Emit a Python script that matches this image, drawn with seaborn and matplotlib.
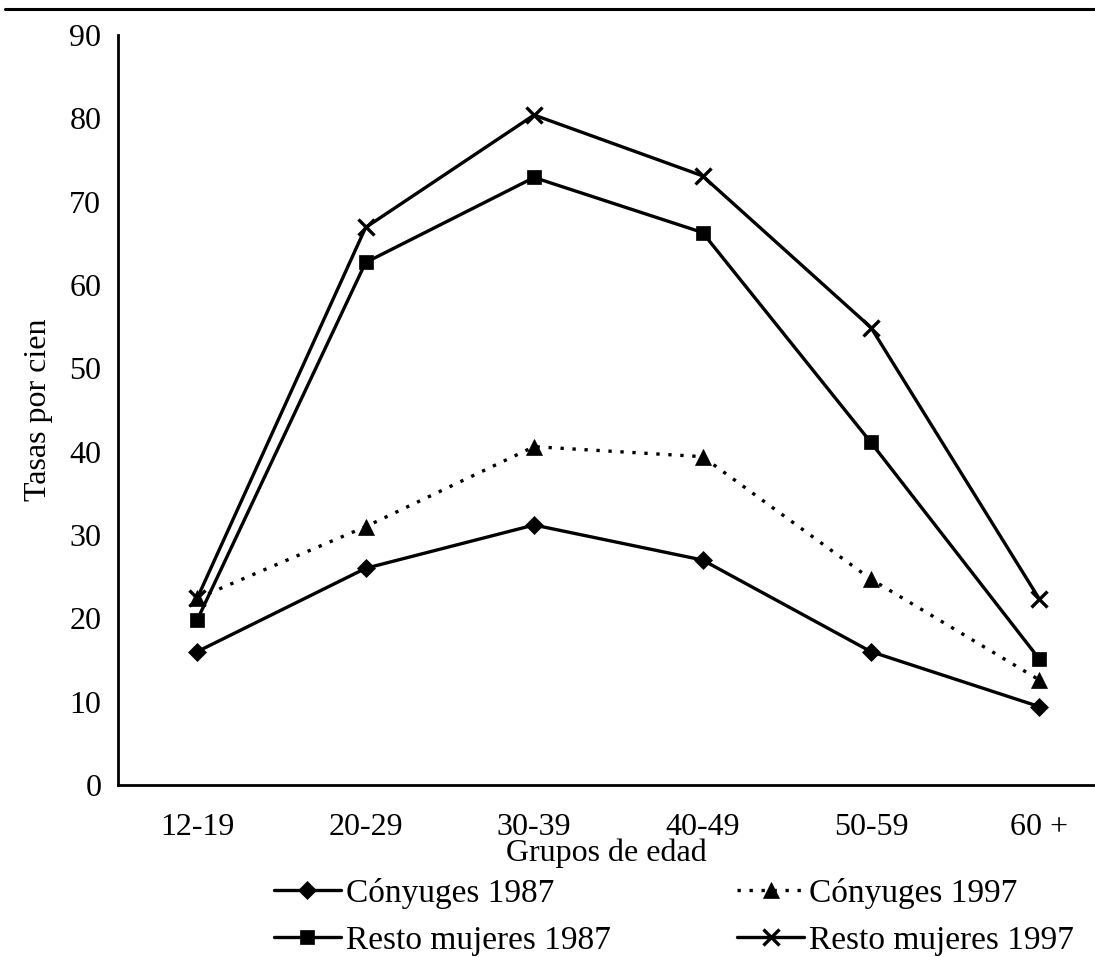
import pandas as pd
import matplotlib.pyplot as plt
import seaborn as sns
from matplotlib.lines import Line2D

# Data
grupos = ["12-19", "20-29", "30-39", "40-49", "50-59", "60 +"]
conyuges_1987 = [16.0, 26.0, 31.2, 27.0, 16.0, 9.4]
conyuges_1997 = [22.4, 31.0, 40.6, 39.4, 24.7, 12.6]
resto_1987 = [19.8, 62.7, 72.9, 66.3, 41.1, 15.1]
resto_1997 = [22.4, 66.9, 80.4, 73.1, 54.9, 22.3]

series = [
    ("Cónyuges 1987", conyuges_1987, "D", "-", 9),
    ("Resto mujeres 1987", resto_1987, "s", "-", 10),
    ("Cónyuges 1997", conyuges_1997, "^", (0, (1, 2.6)), 11),
    ("Resto mujeres 1997", resto_1997, "x", "-", 11),
]

sns.set_style("white")
plt.rcParams["font.family"] = ["Liberation Serif", "DejaVu Serif"]
plt.rcParams["text.color"] = "black"
plt.rcParams["axes.labelcolor"] = "black"
plt.rcParams["xtick.color"] = "black"
plt.rcParams["ytick.color"] = "black"

fig = plt.figure(figsize=(10.95, 9.57), dpi=100)
ax = fig.add_axes([118 / 1095, 1 - 785 / 957, 1 - 118 / 1095, (785 - 35) / 957])

pos = list(range(len(grupos)))
handles = []
for name, vals, mk, ls, ms in series:
    df = pd.DataFrame({"x": pos, "y": vals})
    mew = 2.4 if mk == "x" else 0.5
    sns.lineplot(data=df, x="x", y="y", ax=ax, color="black", linewidth=2.4,
                 linestyle=ls, marker=mk, markersize=ms, markeredgewidth=mew,
                 markeredgecolor="black", markerfacecolor="black")
    handles.append(Line2D([0], [0], color="black", linewidth=2.4, linestyle=ls,
                          marker=mk, markersize=ms, markeredgewidth=mew, label=name))

ax.set_xlim(-0.47, 5.33)
ax.set_ylim(0, 90)
ax.set_yticks(range(0, 91, 10))
ax.set_xticks([p + 0.5 for p in pos[:-1]])
ax.set_xticklabels([])
ax.set_xticks(pos, minor=True)
ax.set_xticklabels(grupos, minor=True, fontsize=23)
ax.tick_params(axis="x", which="minor", length=0, pad=20)
ax.tick_params(axis="x", which="major", direction="out", length=5, width=1.5)
ax.tick_params(axis="y", direction="out", length=4, width=1.5, labelsize=23, pad=8)

for side in ["top", "right"]:
    ax.spines[side].set_visible(False)
for side in ["left", "bottom"]:
    ax.spines[side].set_linewidth(2)
    ax.spines[side].set_color("black")

ax.set_xlabel("Grupos de edad", fontsize=23, labelpad=-2)
ax.set_ylabel("Tasas por cien", fontsize=23, labelpad=12)

fig.legend(handles=handles, loc="lower left", bbox_to_anchor=(244 / 1095, -0.03),
           ncol=2, frameon=False, fontsize=24, handlelength=2.0,
           columnspacing=3.8, labelspacing=0.5, handletextpad=0.15)

# rule at top of figure
fig.add_artist(Line2D([0.005, 1.0], [1 - 9 / 957, 1 - 9 / 957], color="black",
                      linewidth=2.2, transform=fig.transFigure))

fig.savefig("out.png", dpi=100)
